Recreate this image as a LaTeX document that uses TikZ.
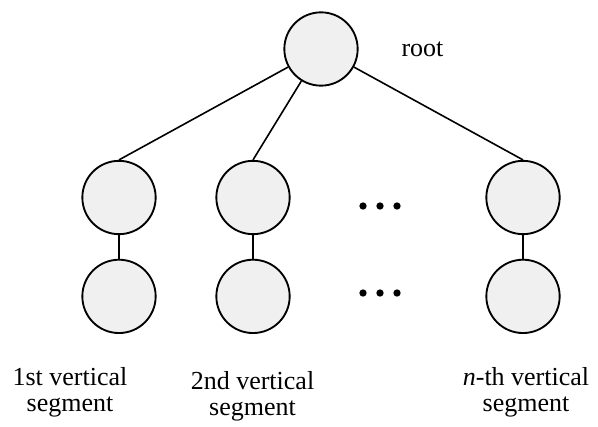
\documentclass[tikz,border=0pt]{standalone}
\usepackage{fontspec}
\setmainfont{Liberation Serif}
\usetikzlibrary{positioning}
\definecolor{nodegray}{RGB}{240,240,240}

\begin{document}
\begin{tikzpicture}[x=0.75pt, y=-0.75pt,
    vertex/.style={circle, draw=black, line width=1.4pt, fill=nodegray, minimum size=55pt, inner sep=0pt},
    seglabel/.style={align=center, inner sep=0pt, font=\fontsize{19.5}{19.5}\selectfont},
    dot/.style={circle, fill=black, minimum size=5.5pt, inner sep=0pt},
    link/.style={line width=1.2pt}]

  \useasboundingbox (0,0) rectangle (598,427);

  \node[vertex] (root) at (321,49) {};
  \node[inner sep=0pt, font=\fontsize{19.5}{19.5}\selectfont, right=32pt of root] (rootlabel) {root};

  \node[vertex] (s1top) at (119,197.5) {};
  \node[vertex] (s2top) at (253,197.5) {};
  \node[vertex] (sntop) at (523,197.5) {};
  \node[vertex] (s1bot) [below=17.75pt of s1top] {};
  \node[vertex] (s2bot) [below=17.75pt of s2top] {};
  \node[vertex] (snbot) [below=17.75pt of sntop] {};

  \foreach \i/\x in {1/363,2/380,3/397} {
    \node[dot] (dotup\i) at (\x,206) {};
    \node[dot] (dotlow\i) at (\x,293) {};
  }

  \draw[link] (root) -- (s1top.north);
  \draw[link] (root) -- (s2top.north);
  \draw[link] (root) -- (sntop.north);
  \draw[link] (s1top) -- (s1bot);
  \draw[link] (s2top) -- (s2bot);
  \draw[link] (sntop) -- (snbot);

  \node[seglabel] (label1) at (70,392.5) {1st vertical\\segment};
  \node[seglabel] (label2) at (252.5,396.5) {2nd vertical\\segment};
  \node[seglabel] (labeln) at (526,392.5) {\textit{n}-th vertical\\segment};
\end{tikzpicture}
\end{document}
